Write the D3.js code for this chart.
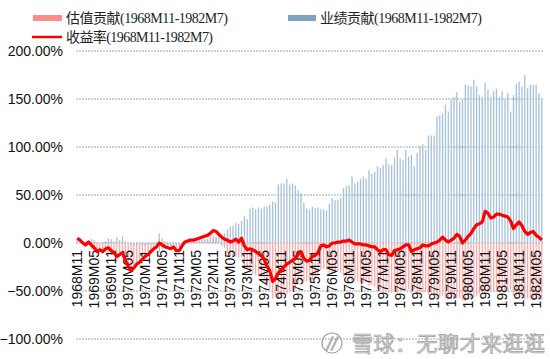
<!DOCTYPE html>
<html>
<head>
<meta charset="utf-8">
<script src="https://cdn.jsdelivr.net/npm/d3@7"></script>
<style>
  body { margin: 0; background: #fff; }
  svg { display: block; }
</style>
</head>
<body>
<svg width="550" height="359"></svg>
<script>
// monthly data 1968M11 .. 1982M7, values in %
var startYear = 1968, startMonth = 11, monthCount = 165;

var yTicks = [-100, -50, 0, 50, 100, 150, 200];

var seriesNames = ["估值贡献(1968M11-1982M7)", "业绩贡献(1968M11-1982M7)", "收益率(1968M11-1982M7)"];

// 收益率
var returnPct = [5,3,0,-2,1,-2,-5,-9,-7,-9, -6,-5,-8,-10,-14,-12,-10,-18,-24,-29,
  -26,-22,-20,-17,-14,-12,-9,-6,-4,0, -2,-4,-5,-6,-4,-8,-8,-3,1,2,
  3,3,4,5,6,7,8,10,13,12, 9,6,4,3,1,2,4,1,5,-3,
  -7,-6,-7,-9,-11,-13,-17,-24,-29,-40, -37,-31,-28,-25,-22,-20,-18,-16,-12,-9,
  -16,-19,-18,-14,-13,-10,-3,-2,-4,-3, 0,0,1,1,2,2,3,1,-1,-1,
  -1,-2,-2,-3,-4,-4,-7,-9,-7,-7, -12,-13,-8,-7,-6,-4,-2,-2,-9,-7,
  -6,-5,-2,-3,-3,-1,0,1,3,6, 3,1,3,5,9,7,0,3,7,10,
  15,19,20,22,33,31,26,27,30,30, 29,28,27,23,15,19,22,18,12,9,
  11,12,8,6,3];

// 业绩贡献
var earnings = [1,0,1,2,2,4,3,1,0,1, 2,5,4,2,6,3,7,2,-1,-2,
  -3,-3,-2,-2,-3,-2,-1,-1,-5,-9, -7,-6,-2,-3,-2,-3,-4,-2,-1,0,
  0,1,1,2,3,3,4,3,5,6, 8,9,10,14,17,18,21,20,23,28,
  25,36,37,35,37,36,38,38,40,43, 42,61,62,62,67,61,62,60,55,52,
  42,36,35,38,36,37,35,35,34,41, 47,45,45,47,57,59,60,69,62,64,
  67,69,67,76,72,74,80,78,81,88, 82,81,89,97,88,86,97,90,92,80,
  94,101,103,97,112,112,112,132,133,135, 144,137,149,152,157,147,149,165,164,163,
  170,163,154,152,167,160,152,158,161,152, 158,150,156,137,154,166,168,163,175,161,
  165,165,165,156,150];

// 估值贡献
var valuation = [4,3,-1,-4,-1,-6,-8,-10,-7,-10, -8,-10,-12,-12,-19,-15,-16,-20,-23,-28,
  -24,-20,-18,-15,-11,-10,-8,-5,1,10, 5,2,-3,-3,-2,-5,-4,-1,2,2,
  3,2,3,3,3,4,4,7,8,6, 1,-3,-5,-10,-14,-14,-14,-16,-15,-24,
  -26,-31,-32,-33,-35,-36,-40,-45,-49,-58, -56,-57,-56,-54,-53,-50,-49,-48,-43,-40,
  -41,-40,-39,-38,-36,-34,-28,-27,-28,-31, -32,-31,-30,-31,-35,-36,-36,-40,-39,-40,
  -41,-42,-41,-45,-44,-45,-48,-49,-49,-51, -52,-52,-51,-53,-50,-48,-50,-48,-53,-48,
  -52,-53,-52,-51,-54,-53,-53,-56,-56,-55, -58,-57,-59,-58,-58,-57,-60,-61,-59,-58,
  -57,-55,-53,-52,-50,-50,-50,-51,-50,-48, -50,-49,-50,-48,-55,-55,-54,-55,-59,-58,
  -58,-58,-59,-59,-59];

// month labels
var months = [];
for (var k = 0; k < monthCount; k++) {
  var m = startMonth - 1 + k;
  var y = startYear + Math.floor(m / 12);
  var mm = (m % 12) + 1;
  months.push(y + "M" + (mm < 10 ? "0" + mm : mm));
}
var tickLabels = months.filter(function(d, i){ return i % 6 === 0; });

var pink = "#ffa8a8", blue = "#a4c0da", red = "#ff0000";

var svg = d3.select("svg");

var x = d3.scaleBand().domain(months).range([76, 543]).paddingInner(0.55).paddingOuter(0.2);
var yS = d3.scaleLinear().domain([-100, 200]).range([339, 51]);

// grid
svg.append("g").selectAll("line")
  .data(yTicks)
  .join("line")
  .attr("x1", 76).attr("x2", 543)
  .attr("y1", d => yS(d)).attr("y2", d => yS(d))
  .attr("stroke", "#a8a8a8")
  .attr("stroke-width", 1)
  .attr("stroke-dasharray", "2,1");

// y labels
svg.append("g").selectAll("text")
  .data(yTicks)
  .join("text")
  .attr("x", 63)
  .attr("y", d => yS(d))
  .attr("dy", "0.36em")
  .attr("text-anchor", "end")
  .style("font", "14px 'Liberation Sans', Arial, sans-serif")
  .attr("fill", "#111")
  .text(d => d3.format(".2f")(d) + "%");

// bars
function bars(vals, color) {
  svg.append("g").selectAll("rect")
    .data(vals)
    .join("rect")
    .attr("x", (d, i) => x(months[i]))
    .attr("width", x.bandwidth())
    .attr("y", d => yS(Math.max(0, d)))
    .attr("height", d => Math.abs(yS(d) - yS(0)))
    .attr("fill", color);
}
bars(valuation, pink);
bars(earnings, blue);

// x labels (drawn over bars)
svg.append("g").selectAll("text")
  .data(tickLabels)
  .join("text")
  .attr("transform", d => "translate(" + (x(d) + x.bandwidth() / 2) + ",250) rotate(-90)")
  .attr("dy", "0.36em")
  .attr("text-anchor", "end")
  .style("font", "14px 'Liberation Sans', Arial, sans-serif")
  .attr("fill", "#111")
  .text(d => d);

// return line
var line = d3.line()
  .x((d, i) => x(months[i]) + x.bandwidth() / 2)
  .y(d => yS(d));

svg.append("path")
  .datum(returnPct)
  .attr("d", line)
  .attr("fill", "none")
  .attr("stroke", red)
  .attr("stroke-width", 3.2)
  .attr("stroke-linejoin", "round");

// legend
var legendFont = "14px 'Liberation Serif', 'Noto Sans CJK SC', serif";
var lg = svg.append("g").attr("fill", "#222");
lg.append("rect").attr("x", 33).attr("y", 15).attr("width", 29).attr("height", 6).attr("fill", "#ff8a8a");
lg.append("text").attr("x", 66).attr("y", 23).style("font", legendFont)
  .attr("textLength", 162).attr("lengthAdjust", "spacing").text(seriesNames[0]);
lg.append("rect").attr("x", 288).attr("y", 15).attr("width", 28).attr("height", 6).attr("fill", "#7fa2c0");
lg.append("text").attr("x", 320).attr("y", 23).style("font", legendFont)
  .attr("textLength", 162).attr("lengthAdjust", "spacing").text(seriesNames[1]);
lg.append("line").attr("x1", 32).attr("x2", 62).attr("y1", 37).attr("y2", 37).attr("stroke", red).attr("stroke-width", 2.5);
lg.append("text").attr("x", 66).attr("y", 42).style("font", legendFont)
  .attr("textLength", 147).attr("lengthAdjust", "spacing").text(seriesNames[2]);

// watermark
var wm = svg.append("g").attr("fill", "none").attr("stroke", "#a0a0a0");
wm.append("circle").attr("cx", 332).attr("cy", 343).attr("r", 10).attr("stroke-width", 1.2);
wm.append("text").attr("x", 332).attr("y", 349).attr("text-anchor", "middle")
  .style("font", "italic 15px 'DejaVu Sans', sans-serif").attr("stroke-width", 0.8).text("//");
wm.append("text").attr("x", 352).attr("y", 351)
  .style("font", "21px 'Noto Sans CJK SC', sans-serif")
  .attr("fill", "#d4d4d4").attr("stroke-width", 0.7)
  .attr("textLength", 193).attr("lengthAdjust", "spacing")
  .text("雪球：无聊才来逛逛");
</script>
</body>
</html>
